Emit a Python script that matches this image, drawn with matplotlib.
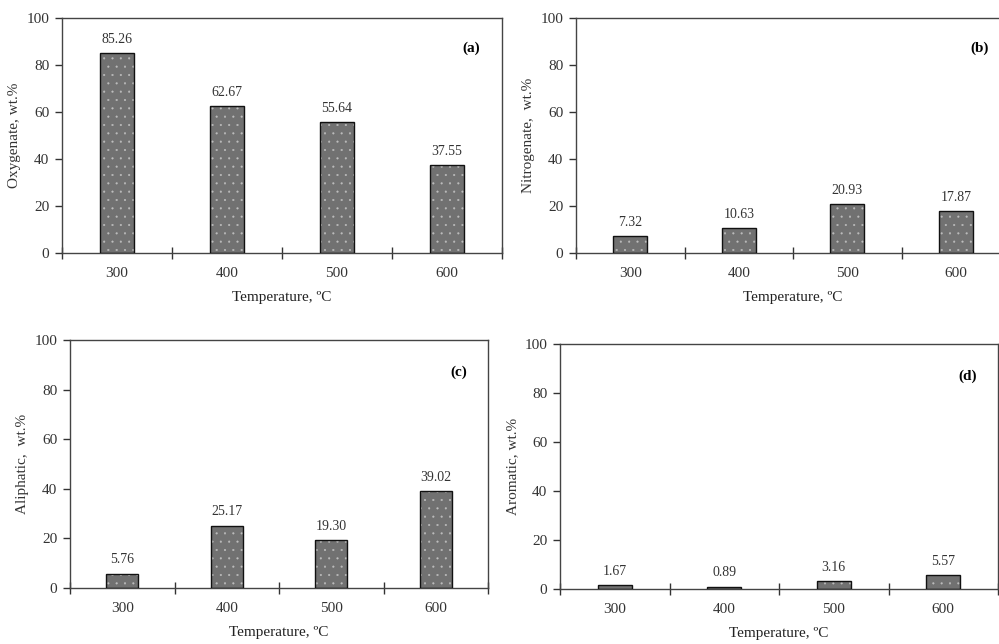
import numpy as np
import matplotlib.pyplot as plt

temps = ["300", "400", "500", "600"]
oxygenate = [85.26, 62.67, 55.64, 37.55]
nitrogenate = [7.32, 10.63, 20.93, 17.87]
aliphatic = [5.76, 25.17, 19.30, 39.02]
aromatic = [1.67, 0.89, 3.16, 5.57]
value_labels = {
    "a": ["85.26", "62.67", "55.64", "37.55"],
    "b": ["7.32", "10.63", "20.93", "17.87"],
    "c": ["5.76", "25.17", "19.30", "39.02"],
    "d": ["1.67", "0.89", "3.16", "5.57"],
}

plt.rcParams["font.family"] = ["Liberation Serif", "DejaVu Serif"]
plt.rcParams["hatch.linewidth"] = 0.3

fig = plt.figure(figsize=(9.99, 6.44), dpi=100)
W, H = 999, 644

# panel rectangles in pixels: left, top, right, bottom
panels = [
    ("a", oxygenate, "Oxygenate, wt.%", (62, 18, 502, 253)),
    ("b", nitrogenate, "Nitrogenate,  wt.%", (576, 18, 1010, 253)),
    ("c", aliphatic, "Aliphatic,  wt.%", (70, 340, 488, 588)),
    ("d", aromatic, "Aromatic, wt.%", (560, 344, 998, 589)),
]

x = np.arange(len(temps))
for tag, vals, ylabel, (l, t, r, b) in panels:
    ax = fig.add_axes([l / W, 1 - b / H, (r - l) / W, (b - t) / H])
    # grey fill with fine white dots, then black outline
    ax.bar(x, vals, width=0.31, color="#717171", edgecolor="#bdbdbd",
           hatch="..", linewidth=0, zorder=2)
    ax.bar(x, vals, width=0.31, color="none", edgecolor="#111111",
           linewidth=1.0, zorder=3)
    for xi, v, s in zip(x, vals, value_labels[tag]):
        ax.text(xi, v + 3, s, ha="center", va="bottom", fontsize=10,
                color="#333333")
    ax.set_xlim(-0.5, 3.5)
    ax.set_ylim(0, 100)
    ax.set_yticks(range(0, 101, 20))
    ax.set_xticks(x)
    ax.set_xticklabels(temps)
    ax.set_xticks(np.arange(-0.5, 4.0, 1.0), minor=True)
    ax.tick_params(axis="x", which="major", length=0, pad=10, labelsize=11,
                   labelcolor="#333333")
    ax.tick_params(axis="x", which="minor", direction="inout", length=9,
                   width=1, color="#333333")
    ax.tick_params(axis="y", direction="out", length=5, width=1,
                   color="#333333", labelsize=11, pad=4, labelcolor="#333333")
    for sp in ax.spines.values():
        sp.set_color("#444444")
        sp.set_linewidth(1.0)
    ax.set_ylabel(ylabel, fontsize=11, labelpad=4, color="#333333")
    ax.set_xlabel("Temperature, ºC", fontsize=11, labelpad=8, color="#222222")
    ax.text(0.93, 0.87, f"({tag})", transform=ax.transAxes, fontsize=11,
            fontweight="bold", ha="center", va="center")

fig.savefig("out.png", dpi=100)
